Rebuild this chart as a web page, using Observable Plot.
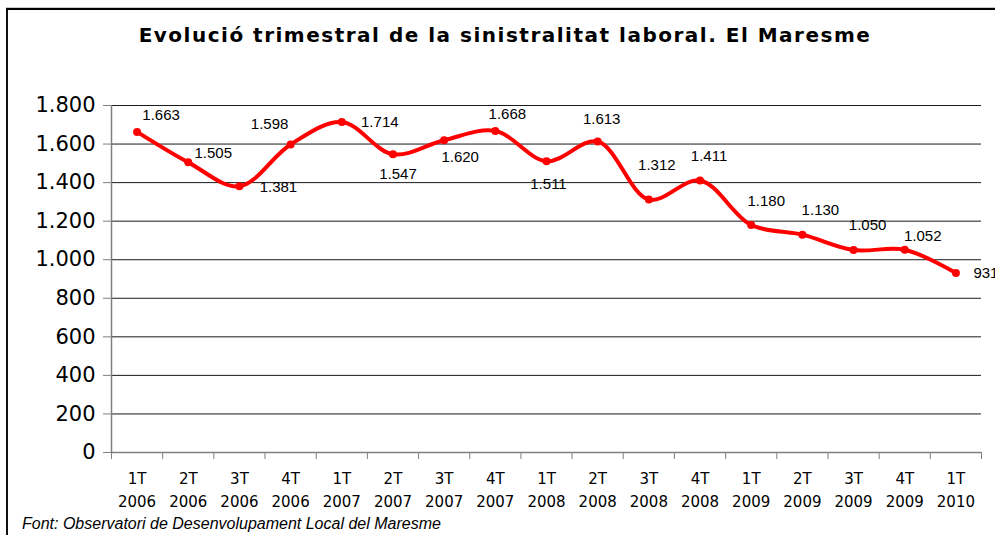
<!DOCTYPE html>
<html>
<head>
<meta charset="utf-8">
<script src="https://cdn.jsdelivr.net/npm/d3@7"></script>
<script src="https://cdn.jsdelivr.net/npm/@observablehq/plot@0.6"></script>
<style>
  html, body { margin: 0; padding: 0; background: #fff; }
  #wrap { position: relative; width: 995px; height: 535px; overflow: hidden; background: #fff; }
  #frame { position: absolute; left: 6px; top: 8px; width: 1000px; height: 600px;
           border-top: 2px solid #000; border-left: 2px solid #111; box-shadow: 0 -1px 0 #c8c8c8; }
  #title { position: absolute; left: 0; width: 1010px; top: 23px; text-align: center;
           font-family: "DejaVu Sans", sans-serif; font-weight: bold; font-size: 20px; letter-spacing: 1.5px; color: #000; }
  #caption { position: absolute; left: 22px; top: 515px; font-family: "Liberation Sans", Arial, sans-serif;
             font-style: italic; font-size: 16px; color: #000; white-space: nowrap; }
  #chart { position: absolute; left: 0; top: 0; }
</style>
</head>
<body>
<div id="wrap">
  <div id="frame"></div>
  <div id="chart"></div>
  <div id="title">Evolució trimestral de la sinistralitat laboral. El Maresme</div>
  <div id="caption">Font: Observatori de Desenvolupament Local del Maresme</div>
</div>
<script>
// ---- data ----
const quarters = ["1T","2T","3T","4T","1T","2T","3T","4T","1T","2T","3T","4T","1T","2T","3T","4T","1T"];
const years = ["2006","2006","2006","2006","2007","2007","2007","2007","2008","2008","2008","2008","2009","2009","2009","2009","2010"];
const values = [1663,1505,1381,1598,1714,1547,1620,1668,1511,1613,1312,1411,1180,1130,1050,1052,931];
const yTicks = [0,200,400,600,800,1000,1200,1400,1600,1800];

// label placement (layout only)
const labelOffsets = [[24,-17],[25,-9],[39,1],[-21,-20],[38,0],[5,20],[16,17],[12,-17],[2,23],[4,-22],[8,-34],[9,-24],[15,-24],[18,-24],[14,-25],[18,-14],[30,0]];

const locale = d3.formatLocale({decimal: ",", thousands: ".", grouping: [3], currency: ["", " €"]});
const fmt = locale.format(",d");

const data = values.map((v, i) => ({i, v}));
const idx = data.map(d => d.i);
const bounds = d3.range(18).map(k => k - 0.5);

const labelMarks = labelOffsets.map((o, i) => Plot.text([data[i]], {
  x: "i", y: "v", text: d => fmt(d.v), dx: o[0], dy: o[1],
  fontSize: 15, fontFamily: "Liberation Sans, Arial, sans-serif", fill: "#000", letterSpacing: "-0.5px"
}));

const chart = Plot.plot({
  width: 995, height: 535,
  marginLeft: 111, marginRight: 14, marginTop: 105, marginBottom: 83,
  style: {background: "transparent", overflow: "visible"},
  x: {type: "linear", domain: [-0.5, 16.5], axis: null},
  y: {domain: [0, 1800], axis: null},
  marks: [
    Plot.gridY(yTicks, {stroke: "#1a1a1a", strokeOpacity: 1, strokeWidth: 1}),
    Plot.axisY(yTicks, {label: null, tickSize: 8, tickPadding: 8, tickFormat: fmt, stroke: "#808080",
      fontSize: 21, fontFamily: "DejaVu Sans, Verdana, sans-serif", fill: "#000"}),
    Plot.ruleX([-0.5], {stroke: "#808080", strokeWidth: 1.5}),
    Plot.ruleY([0], {stroke: "#808080", strokeWidth: 1.5}),
    Plot.axisX(bounds, {label: null, tickSize: 7, tickFormat: () => "", stroke: "#808080"}),
    Plot.axisX(idx, {label: null, tickSize: 0, tickPadding: 15, tickFormat: i => quarters[i] + "\n" + years[i],
      fontSize: 15, lineHeight: 1.53, fontFamily: "DejaVu Sans, Verdana, sans-serif", fill: "#000"}),
    Plot.line(data, {x: "i", y: "v", stroke: "#ff0000", strokeWidth: 4, curve: "catmull-rom", strokeLinejoin: "round"}),
    Plot.dot(data, {x: "i", y: "v", r: 4, fill: "#ff0000", stroke: "none"}),
    ...labelMarks
  ]
});
document.getElementById("chart").appendChild(chart);
</script>
</body>
</html>
